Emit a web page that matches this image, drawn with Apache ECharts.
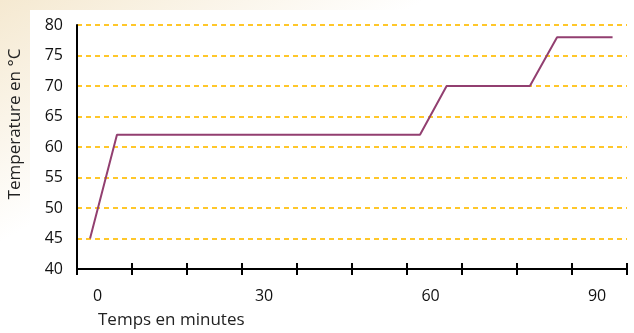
<!DOCTYPE html>
<html>
<head>
<meta charset="utf-8">
<script src="https://cdn.jsdelivr.net/npm/echarts@6/dist/echarts.min.js"></script>
<style>
  html, body { margin: 0; padding: 0; }
  #chart { width: 634px; height: 333px; }
</style>
</head>
<body>
<div id="chart"></div>
<script>
// temps (minutes) et température (°C)
const minutes = [-1.35, 3.5, 58.1, 62.9, 77.9, 82.8, 92.8]
const temperature = [45, 62, 62, 70, 70, 78, 78]
const xLabels = [0, 30, 60, 90]
const xMin = -3.7
const xMax = 95.4

const tickStep = (xMax - xMin) / 10
const xTicks = []
for (let i = 0; i <= 10; i++) xTicks.push(xMin + i * tickStep)

const chart = echarts.init(document.getElementById('chart'))
const font = '"Open Sans", sans-serif'

chart.setOption({
  animation: false,
  backgroundColor: {
    type: 'linear', x: 0, y: 0, x2: 0.3, y2: 1,
    colorStops: [
      { offset: 0, color: '#f5e9d1' },
      { offset: 0.55, color: '#ffffff' }
    ]
  },
  graphic: [
    {
      type: 'rect', z: -10, silent: true,
      shape: { x: 30, y: 10, width: 610, height: 330 },
      style: { fill: '#ffffff' }
    },
    {
      type: 'text', left: 98, top: 312,
      style: { text: 'Temps en minutes', font: '17px ' + font, fill: '#222' }
    },
    {
      type: 'text', x: 7, y: 124, rotation: Math.PI / 2,
      style: {
        text: 'Temperature en °C', font: '17px ' + font, fill: '#222',
        align: 'center', verticalAlign: 'top'
      }
    }
  ],
  grid: { left: 77, right: 7, top: 25, bottom: 64 },
  xAxis: [
    {
      type: 'value', min: xMin, max: xMax,
      axisLine: { show: true, lineStyle: { color: '#000', width: 2 } },
      axisTick: { show: true, length: 6, customValues: xTicks, lineStyle: { color: '#000', width: 2 } },
      axisLabel: { customValues: xLabels, margin: 19, fontSize: 16, fontFamily: font, color: '#111' },
      splitLine: { show: false }
    },
    {
      type: 'value', min: xMin, max: xMax, position: 'bottom',
      axisLine: { show: false },
      axisTick: { show: true, inside: true, length: 6, customValues: xTicks, lineStyle: { color: '#000', width: 2 } },
      axisLabel: { show: false },
      splitLine: { show: false }
    }
  ],
  yAxis: {
    type: 'value', min: 40, max: 80, interval: 5,
    axisLine: { show: true, onZero: false, lineStyle: { color: '#000', width: 2 } },
    axisTick: { show: false },
    axisLabel: { margin: 14, fontSize: 16, fontFamily: font, color: '#111' },
    splitLine: {
      show: true,
      lineStyle: { color: '#ffc72a', width: 2, type: [5, 4] }
    }
  },
  series: [
    {
      type: 'line',
      data: minutes.map((m, i) => [m, temperature[i]]),
      showSymbol: false,
      lineStyle: { color: '#923f70', width: 2 }
    }
  ]
})
</script>
</body>
</html>
